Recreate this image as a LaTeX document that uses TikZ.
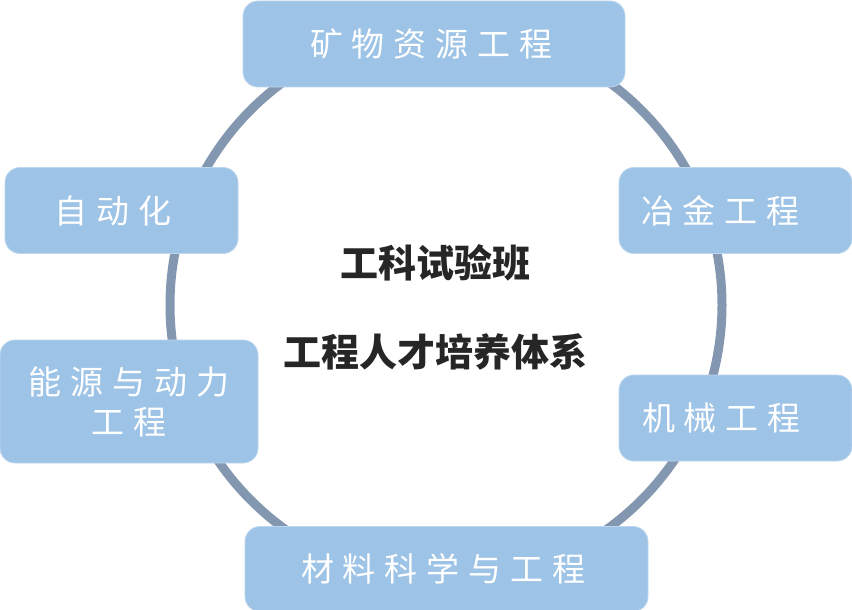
\documentclass[tikz,border=0pt]{standalone}
\usepackage{fontspec}
\setmainfont{Noto Sans CJK SC}
\newfontfamily\boxfont[LetterSpace=27]{Noto Sans CJK SC}
\usetikzlibrary{backgrounds}
\definecolor{unitblue}{RGB}{157,195,230}
\definecolor{unitedge}{RGB}{189,215,238}
\definecolor{ringgray}{RGB}{132,151,176}
\definecolor{ink}{RGB}{38,38,38}
\tikzset{
	ring/.style={draw=ringgray,line width=9pt},
	unit/.style={fill=unitblue,draw=unitedge,line width=0.8pt,rounded corners=15pt,
		text=white,minimum height=86pt,inner xsep=0pt,inner ysep=0pt,align=left,
		font=\boxfont\fontsize{33}{40}\selectfont},
	hub/.style={text=ink,align=center,font=\bfseries\fontsize{38}{45}\selectfont},
}

\begin{document}
\begin{tikzpicture}[x=1pt,y=-1pt]
		\useasboundingbox (0,0) rectangle (852,610);
		
		\draw[ring] (446,305) circle[radius=276];
		
		\node[unit,text width=382pt] (mining) at (434,44) {\hspace*{67pt}矿物资源工程};
		\node[unit,text width=233pt] (metal) at (735.5,210.5) {\hspace*{22pt}冶金工程};
		\node[unit,text width=233pt] (mech) at (735.5,418) {\hspace*{23pt}机械工程};
		\node[unit,text width=403pt,minimum height=85pt] (material) at (446.5,569) {\hspace*{56pt}材料科学与工程};
		\node[unit,text width=233pt] (auto) at (121.5,210.5) {\hspace*{50pt}自动化};
		\node[unit,text width=258pt,align=center,minimum height=123pt] (energy) at (129,401.5) {能源与动力\\工程};
		
		\node[hub] (center) at (435,307) {工科试验班\\[44pt]工程人才培养体系};
		
	\end{tikzpicture}
\end{document}
